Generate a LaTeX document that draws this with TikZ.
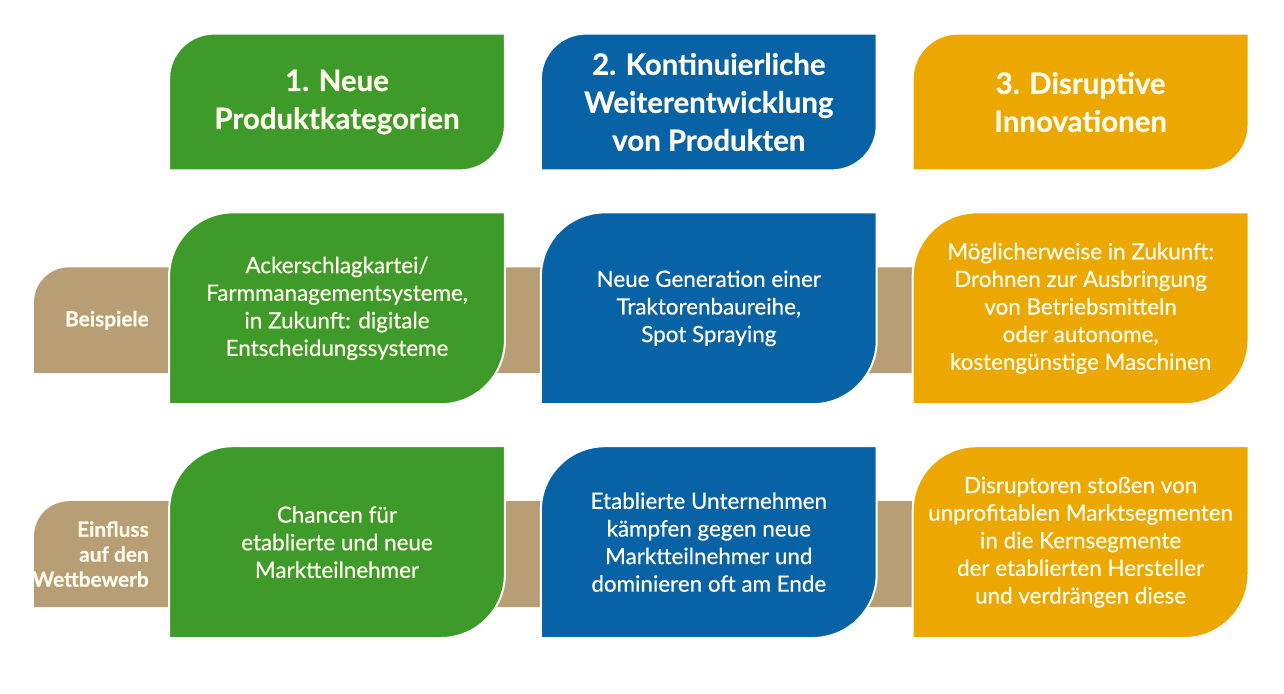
\documentclass[tikz,border=0pt]{standalone}
\usepackage{fontspec}
\setmainfont{Lato}[FakeBold=0.6]
\usetikzlibrary{positioning,backgrounds}
\definecolor{grn}{RGB}{62,154,41}
\definecolor{blu}{RGB}{8,99,166}
\definecolor{org}{RGB}{236,167,0}
\definecolor{sand}{RGB}{184,158,116}
\definecolor{cream}{RGB}{255,252,238}

\begin{document}
\begin{tikzpicture}[x=0.5pt, y=0.5pt, node distance=21pt and 18pt,
    head/.style = {minimum width=167.5pt, minimum height=68pt, align=center, text=cream, font=\fontsize{14.7}{19}\selectfont\bfseries},
    cell/.style = {minimum width=167.5pt, minimum height=95.5pt, align=center, text=cream, font=\fontsize{11.2}{13.8}\selectfont},
    lbl/.style = {minimum height=52.5pt, inner xsep=0pt, align=right, text=cream, font=\fontsize{10.4}{12.5}\selectfont\bfseries},
    leaf/.style = {draw=white, line width=1pt},]
  \useasboundingbox (0,0) rectangle (1284,693);
  \coordinate (edge) at (34,0);
  % column heads
  \node [head] (h1) at (337,591) {1. Neue\\Produktkategorien};
  \node [head, right=of h1] (h2) {2. Kontinuierliche\\Weiterentwicklung\\von Produkten};
  \node [head, right=of h2] (h3) {3. Disruptive\\Innovationen};
  % examples
  \node [cell, below=of h1] (bsp1) {Ackerschlagkartei/\\Farmmanagementsysteme,\\in Zukunft: digitale\\Entscheidungssysteme};
  \node [cell, below=of h2] (bsp2) {Neue Generation einer\\Traktorenbaureihe,\\Spot Spraying};
  \node [cell, below=of h3] (bsp3) {Möglicherweise in Zukunft:\\Drohnen zur Ausbringung\\von Betriebsmitteln\\oder autonome,\\kostengünstige Maschinen};
  % competition
  \node [cell, below=of bsp1] (wtb1) {Chancen für\\etablierte und neue\\Marktteilnehmer};
  \node [cell, below=of bsp2] (wtb2) {Etablierte Unternehmen\\kämpfen gegen neue\\Marktteilnehmer und\\dominieren oft am Ende};
  \node [cell, below=of bsp3] (wtb3) {Disruptoren stoßen von\\unprofitablen Marktsegmenten\\in die Kernsegmente\\der etablierten Hersteller\\und verdrängen diese};
  % row labels
  \node [lbl, left=10pt of bsp1, yshift=-6pt] (lblBsp) {Beispiele};
  \node [lbl, left=10pt of wtb1, yshift=-6pt] (lblWtb) {Einfluss\\auf den\\Wettbewerb};
  \begin{scope}[on background layer]
    \foreach \n/\o in {lblBsp/bsp3, lblWtb/wtb3}
      \fill[sand] ([yshift=-17.5pt]\n.north -| edge) arc[start angle=180, end angle=90, radius=17.5pt] -- (\n.north -| \o.center) -- (\n.south -| \o.center) -- (\n.south -| edge) -- cycle;
    \foreach \n/\c/\r in {h1/grn/22.5pt, h2/blu/22.5pt, h3/org/22.5pt, bsp1/grn/32pt, bsp2/blu/32pt, bsp3/org/32pt, wtb1/grn/32pt, wtb2/blu/32pt, wtb3/org/32pt}
      \draw[leaf, fill=\c] ([yshift=-\r]\n.north west) arc[start angle=180, end angle=90, radius=\r] -- (\n.north east) -- ([yshift=\r]\n.south east) arc[start angle=0, end angle=-90, radius=\r] -- (\n.south west) -- cycle;
  \end{scope}
\end{tikzpicture}
\end{document}
